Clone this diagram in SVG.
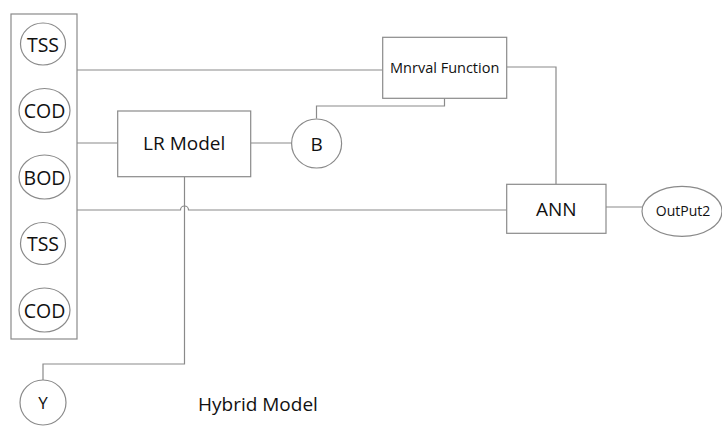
<svg xmlns="http://www.w3.org/2000/svg" width="722" height="426" viewBox="0 0 722 426">
  <style>
    .shape { fill: #ffffff; stroke: #8a8a8a; stroke-width: 1.2; }
    .wire { fill: none; stroke: #8a8a8a; stroke-width: 1.2; }
    text { font-family: "Open Sans", "Noto Sans", "Liberation Sans", sans-serif; fill: #111111; text-anchor: middle; }
    .big { font-size: 19px; }
    .small { font-size: 14.5px; }
  </style>
  <rect width="722" height="426" fill="#ffffff"/>

  <!-- connectors -->
  <g id="connectors">
    <path class="wire" d="M77,70 H382.7"/>
    <path class="wire" d="M506.7,67 H556 V184.3"/>
    <path class="wire" d="M444.5,98.3 V106 H316.5 V118.5"/>
    <path class="wire" d="M77,143 H117.7"/>
    <path class="wire" d="M250.7,143 H291.5"/>
    <path class="wire" d="M77,210 H180.5 A4,4 0 0 1 188.5,210 H506.7"/>
    <path class="wire" d="M184.5,176.7 V364 H43 V380"/>
    <path class="wire" d="M606,207 H642"/>
  </g>

  <!-- input column -->
  <g id="inputs">
    <rect class="shape" x="11" y="14" width="66" height="325"/>
    <g id="in-tss-1">
      <ellipse class="shape" cx="43" cy="44" rx="22.5" ry="21"/>
      <text class="big" x="43" y="51.5" style="font-size:19.5px">TSS</text>
    </g>
    <g id="in-cod-1">
      <ellipse class="shape" cx="44.5" cy="110.5" rx="25.5" ry="22"/>
      <text class="big" x="44.5" y="118" style="font-size:19.5px">COD</text>
    </g>
    <g id="in-bod">
      <ellipse class="shape" cx="44.5" cy="177" rx="25.5" ry="22"/>
      <text class="big" x="44.5" y="184.5" style="font-size:19.5px">BOD</text>
    </g>
    <g id="in-tss-2">
      <ellipse class="shape" cx="43" cy="243.5" rx="22.5" ry="21"/>
      <text class="big" x="43" y="251" style="font-size:19.5px">TSS</text>
    </g>
    <g id="in-cod-2">
      <ellipse class="shape" cx="44.5" cy="310" rx="25.5" ry="22"/>
      <text class="big" x="44.5" y="317.5" style="font-size:19.5px">COD</text>
    </g>
  </g>

  <g id="lr-model">
    <rect class="shape" x="117.7" y="111" width="133" height="65.7"/>
    <text class="big" x="184.2" y="150">LR Model</text>
  </g>

  <g id="b-node">
    <ellipse class="shape" cx="316.6" cy="143.5" rx="25" ry="24.5"/>
    <text class="big" x="316.6" y="150.5">B</text>
  </g>

  <g id="mnrval-function">
    <rect class="shape" x="382.7" y="37.3" width="124" height="61"/>
    <text class="small" x="444.7" y="73.3">Mnrval Function</text>
  </g>

  <g id="ann">
    <rect class="shape" x="506.7" y="184.3" width="99.3" height="49"/>
    <text class="big" x="556.3" y="215.5">ANN</text>
  </g>

  <g id="output2">
    <ellipse class="shape" cx="682" cy="211.3" rx="40" ry="25"/>
    <text class="small" x="683" y="216" style="font-size:14px">OutPut2</text>
  </g>

  <g id="y-node">
    <ellipse class="shape" cx="43" cy="402.5" rx="23" ry="22.5"/>
    <text class="big" x="43" y="408.5" style="font-size:17px">Y</text>
  </g>

  <g id="title">
    <text class="big" x="198" y="410.7" style="text-anchor:start">Hybrid Model</text>
  </g>
</svg>
